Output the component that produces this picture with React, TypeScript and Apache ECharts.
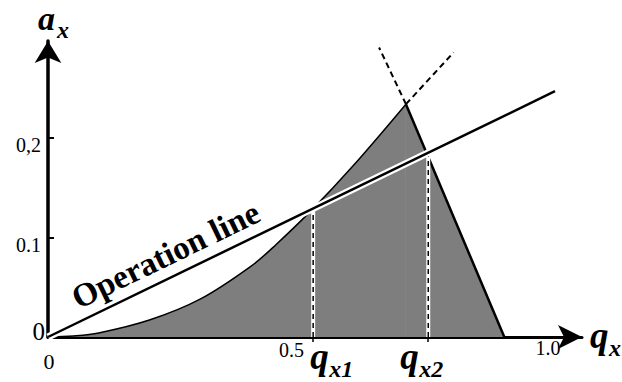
import React, { useEffect, useRef } from "react";
import * as echarts from "echarts";

// Rising boundary a(q) of the shaded region, up to its apex
const curveQ = [0, 0.05, 0.1, 0.2, 0.3, 0.4, 0.45, 0.523, 0.6, 0.706];
const curveA = [0, 0.001, 0.004, 0.017, 0.038, 0.071, 0.093, 0.129, 0.171, 0.234];

// Falling boundary: apex down to the q-axis
const fallQ = [0.706, 0.9];
const fallA = [0.234, 0];

// Dashed continuations beyond the apex
const riseExtQ = [0.706, 0.8];
const riseExtA = [0.234, 0.286];
const fallExtQ = [0.706, 0.653];
const fallExtA = [0.234, 0.291];

// Operation line a = k·q
const opQ = [0, 1.0];
const opA = [0, 0.247];

// Intersection abscissae
const cutQ = [0.523, 0.75];
const cutNames = ["x1", "x2"];

// Tick labels
const yTicks = [0.1, 0.2];
const yTickLabels = ["0.1", "0,2"];
const xTicks = [0.5, 1.0];
const xTickLabels = ["0.5", "1.0"];

const SERIF = "'Liberation Serif', 'DejaVu Serif', serif";
const X_MAX = 534 / 507;
const Y_MAX = 296 / 995;

const pairs = (xs: number[], ys: number[]) => xs.map((x, i) => [x, ys[i]]);
const opAt = (q: number) => opA[0] + ((opA[1] - opA[0]) * (q - opQ[0])) / (opQ[1] - opQ[0]);

export default function App() {
  const ref = useRef<HTMLDivElement>(null);

  useEffect(() => {
    if (!ref.current) return;
    const chart = echarts.init(ref.current, null, { renderer: "svg" });
    const FILL = "#7e7e7e";

    chart.setOption({
      animation: false,
      backgroundColor: "#fff",
      grid: { left: 48, top: 41, width: 534, height: 296, containLabel: false },
      xAxis: {
        type: "value",
        min: 0,
        max: X_MAX,
        splitLine: { show: false },
        axisLabel: { show: false },
        axisLine: {
          show: true,
          symbol: ["none", "arrow"],
          symbolSize: [18, 24],
          lineStyle: { color: "#000", width: 3 },
        },
        axisTick: {
          show: true,
          customValues: cutQ,
          inside: false,
          length: 5,
          lineStyle: { color: "#000", width: 1.5 },
        },
      },
      yAxis: {
        type: "value",
        min: 0,
        max: Y_MAX,
        splitLine: { show: false },
        axisLabel: { show: false },
        axisLine: {
          show: true,
          symbol: ["none", "arrow"],
          symbolSize: [20, 22],
          lineStyle: { color: "#000", width: 3.5 },
        },
        axisTick: {
          show: true,
          customValues: yTicks,
          inside: true,
          length: 6,
          lineStyle: { color: "#000", width: 2 },
        },
      },
      series: [
        {
          type: "line",
          data: pairs(curveQ, curveA),
          smooth: 0.35,
          showSymbol: false,
          lineStyle: { color: "#000", width: 1.5 },
          areaStyle: { color: FILL, opacity: 1 },
          z: 2,
        },
        {
          type: "line",
          data: pairs(fallQ, fallA),
          showSymbol: false,
          lineStyle: { color: "#000", width: 2.5 },
          areaStyle: { color: FILL, opacity: 1 },
          z: 3,
        },
        ...cutQ.map((q) => ({
          type: "line",
          data: [
            [q, 0],
            [q, opAt(q)],
          ],
          showSymbol: false,
          lineStyle: { color: "#fff", width: 4 },
          z: 4,
        })),
        ...cutQ.map((q) => ({
          type: "line",
          data: [
            [q, 0],
            [q, opAt(q)],
          ],
          showSymbol: false,
          lineStyle: { color: "#000", width: 1.5, type: [5, 4] },
          z: 5,
        })),
        {
          type: "line",
          data: pairs(opQ, opA),
          showSymbol: false,
          lineStyle: { color: "#fff", width: 7 },
          z: 6,
        },
        {
          type: "line",
          data: pairs(opQ, opA),
          showSymbol: false,
          lineStyle: { color: "#000", width: 2.5 },
          z: 7,
        },
        {
          type: "line",
          data: pairs(riseExtQ, riseExtA),
          showSymbol: false,
          lineStyle: { color: "#000", width: 2, type: [6, 4] },
          z: 7,
        },
        {
          type: "line",
          data: pairs(fallExtQ, fallExtA),
          showSymbol: false,
          lineStyle: { color: "#000", width: 2, type: [6, 4] },
          z: 7,
        },
      ],
    });

    const px = (q: number, a: number) => chart.convertToPixel({ gridIndex: 0 }, [q, a]) as number[];
    const o = px(0, 0);
    const g: any[] = [];

    const txt = (x: number, y: number, text: string, style: any) =>
      g.push({ type: "text", x, y, z: 100, style: { text, fill: "#000", fontFamily: SERIF, ...style } });

    // origin labels
    txt(o[0] - 3, o[1] - 6, "0", { fontSize: 25, align: "right", verticalAlign: "middle" });
    txt(o[0] + 1, o[1] + 24, "0", { fontSize: 22, align: "center", verticalAlign: "middle" });

    yTicks.forEach((v, i) => {
      const p = px(0, v);
      txt(p[0] - 7, p[1] + 7, yTickLabels[i], { fontSize: 20, align: "right", verticalAlign: "middle" });
    });
    xTicks.forEach((v, i) => {
      const p = px(v, 0);
      txt(p[0] - (i === 0 ? 10 : 7), p[1] + (i === 0 ? 13 : 11), xTickLabels[i], {
        fontSize: 20,
        align: "center",
        verticalAlign: "middle",
      });
    });

    // italic symbol with subscript; (x, base) = left edge and baseline of the main letter
    const sym = (x: number, base: number, main: string, sub: string, size = 37) => {
      txt(x, base - size / 3, main, {
        fontSize: size,
        fontWeight: "bold",
        fontStyle: "italic",
        align: "left",
        verticalAlign: "middle",
      });
      txt(x + 19, base, sub, {
        fontSize: 24,
        fontWeight: "bold",
        fontStyle: "italic",
        align: "left",
        verticalAlign: "middle",
      });
    };

    // axis names
    const yTop = px(0, Y_MAX);
    sym(yTop[0] - 10, yTop[1] - 11, "a", "x", 34);
    const xEnd = px(X_MAX, 0);
    sym(xEnd[0] + 8, o[1] + 11, "q", "x");

    // intersection labels
    cutQ.forEach((q, i) => {
      const p = px(q, 0);
      sym(p[0] + (i === 0 ? -3 : -28), p[1] + 32, "q", cutNames[i]);
    });

    // operation line caption, parallel to the line
    const s0 = px(opQ[0], opA[0]);
    const s1 = px(opQ[1], opA[1]);
    const ang = Math.atan2(s0[1] - s1[1], s1[0] - s0[0]);
    const start = px(0.07, opAt(0.07));
    const off = 6;
    g.push({
      type: "text",
      x: start[0] - Math.sin(ang) * off,
      y: start[1] - Math.cos(ang) * off,
      rotation: ang,
      z: 100,
      style: {
        text: "Operation line",
        fill: "#000",
        fontFamily: SERIF,
        fontSize: 33,
        fontWeight: "bold",
        align: "left",
        verticalAlign: "bottom",
      },
    });

    chart.setOption({ graphic: g });

    return () => chart.dispose();
  }, []);

  return (
    <div
      ref={ref}
      style={{ position: "fixed", left: 0, top: 0, width: 622, height: 382, background: "#fff" }}
    />
  );
}
